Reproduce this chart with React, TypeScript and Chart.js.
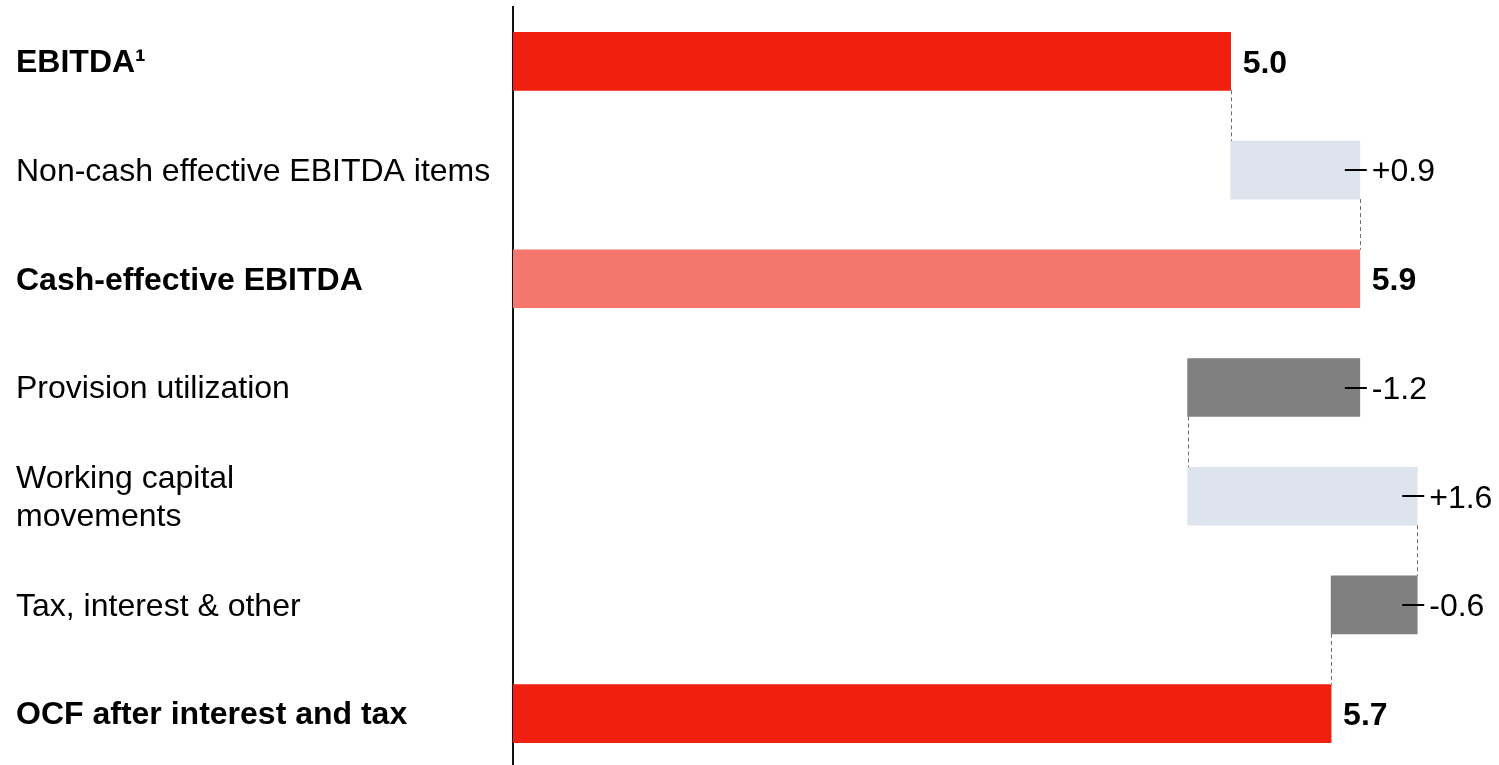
import React, { useEffect, useRef } from "react";
import { Chart, registerables } from "chart.js";

Chart.register(...registerables);

const categories: (string | string[])[] = [
  "EBITDA¹",
  "Non-cash effective EBITDA items",
  "Cash-effective EBITDA",
  "Provision utilization",
  ["Working capital", "movements"],
  "Tax, interest & other",
  "OCF after interest and tax",
];
const values = [5.0, 0.9, 5.9, -1.2, 1.6, -0.6, 5.7];
const isTotal = [true, false, true, false, false, false, true];
const valueLabels = ["5.0", "+0.9", "5.9", "-1.2", "+1.6", "-0.6", "5.7"];
const barColors = ["#F11F0E", "#DEE4EE", "#F4766C", "#808080", "#DEE4EE", "#808080", "#F11F0E"];
const connectors = [true, true, false, true, true, true];

const FONT = '"Liberation Sans", Arial, Helvetica, sans-serif';
const FONT_SIZE = 32;

function buildRanges() {
  const ranges: [number, number][] = [];
  const ends: number[] = [];
  let running = 0;
  values.forEach((v, i) => {
    if (isTotal[i]) {
      ranges.push([0, v]);
      running = v;
    } else {
      ranges.push([running, running + v]);
      running = running + v;
    }
    ends.push(running);
  });
  return { ranges, ends };
}

export default function App() {
  const ref = useRef<HTMLCanvasElement | null>(null);

  useEffect(() => {
    const canvas = ref.current;
    if (!canvas) return;
    const { ranges, ends } = buildRanges();

    const overlay = {
      id: "waterfallOverlay",
      afterDatasetsDraw(chart: any) {
        const ctx = chart.ctx;
        const xs = chart.scales.x;
        const meta = chart.getDatasetMeta(0);
        ctx.save();
        // connectors
        ctx.strokeStyle = "#6f6f6f";
        ctx.lineWidth = 1;
        ctx.setLineDash([4, 3]);
        for (let i = 0; i < ranges.length - 1; i++) {
          if (!connectors[i]) continue;
          const a = meta.data[i];
          const b = meta.data[i + 1];
          const x = Math.round(xs.getPixelForValue(ends[i])) + 0.5;
          ctx.beginPath();
          ctx.moveTo(x, a.y + a.height / 2);
          ctx.lineTo(x, b.y - b.height / 2);
          ctx.stroke();
        }
        ctx.setLineDash([]);
        // value labels and tick marks
        ctx.textBaseline = "middle";
        ctx.textAlign = "left";
        ctx.fillStyle = "#000";
        ranges.forEach((r, i) => {
          const el = meta.data[i];
          const right = xs.getPixelForValue(Math.max(r[0], r[1]));
          if (!isTotal[i]) {
            ctx.strokeStyle = "#000";
            ctx.lineWidth = 2;
            ctx.beginPath();
            ctx.moveTo(right - 15, Math.round(el.y));
            ctx.lineTo(right + 7, Math.round(el.y));
            ctx.stroke();
          }
          ctx.font = `${isTotal[i] ? "bold " : ""}${FONT_SIZE}px ${FONT}`;
          ctx.fillText(valueLabels[i], right + 12, el.y + 2.5);
        });
        ctx.restore();
      },
    };

    const chart = new Chart(canvas, {
      type: "bar",
      data: {
        labels: categories as any,
        datasets: [
          {
            data: ranges as any,
            backgroundColor: barColors,
            borderWidth: 0,
            borderSkipped: false,
            barThickness: 58,
          },
        ],
      },
      options: {
        indexAxis: "y",
        responsive: false,
        animation: false,
        devicePixelRatio: 1,
        layout: { padding: { left: 16, top: 7, right: 10, bottom: 0 } },
        plugins: {
          legend: { display: false },
          tooltip: { enabled: false },
        },
        scales: {
          x: {
            display: false,
            min: 0,
            max: 6.8,
            grid: { display: false },
          },
          y: {
            grid: { display: false, drawTicks: false },
            border: { display: true, color: "#111", width: 2 },
            ticks: {
              crossAlign: "far",
              color: "#000",
              padding: 0,
              autoSkip: false,
              labelOffset: 2,
              font: (c: any) => ({
                family: FONT,
                size: FONT_SIZE,
                weight: isTotal[c.index] ? "bold" : "normal",
                lineHeight: 1.2,
              }),
            },
            afterFit: (scale: any) => {
              scale.width = 513 - 16;
              scale.paddingTop = 0;
              scale.paddingBottom = 0;
            },
          },
        },
      },
      plugins: [overlay],
    } as any);

    return () => chart.destroy();
  }, []);

  return (
    <div style={{ position: "fixed", left: 0, top: 0, width: 1499, height: 768, background: "#fff" }}>
      <canvas ref={ref} width={1499} height={768} style={{ display: "block" }} />
    </div>
  );
}
